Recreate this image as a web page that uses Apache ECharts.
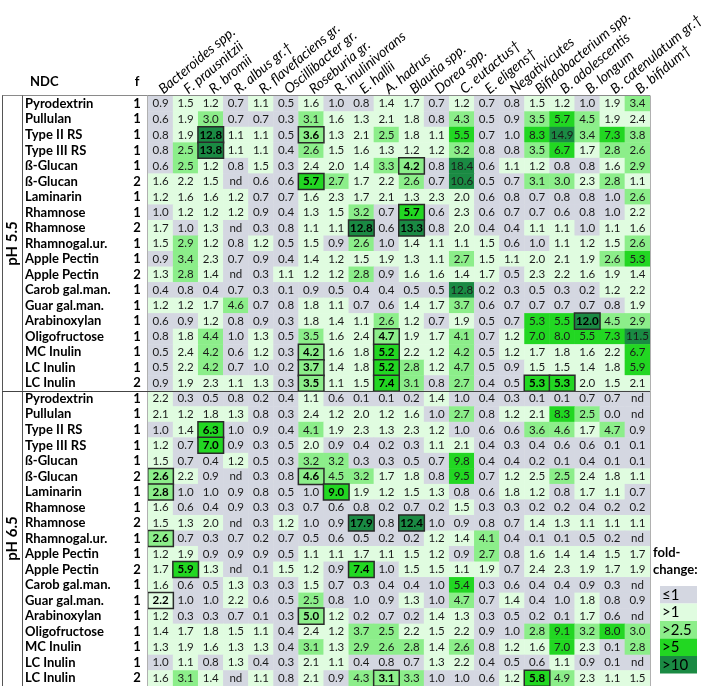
<!DOCTYPE html>
<html><head><meta charset="utf-8">
<script src="https://cdn.jsdelivr.net/npm/echarts@6/dist/echarts.min.js"></script>
<style>html,body{margin:0;padding:0;background:#fff}#c{width:712px;height:686px}</style>
</head><body><div id="c"></div><script>
const bacteria = ['Bacteroides spp.','F. prausnitzii','R. bromii','R. albus gr.\u2020','R. flavefaciens gr.','Oscillibacter gr.','Roseburia gr.','R. inulinivorans','E. hallii','A. hadrus','Blautia spp.','Dorea spp.','C. eutactus\u2020','E. eligens\u2020','Negativicutes','Bifidobacterium spp.','B. adolescentis','B. longum','B. catenulatum gr.\u2020','B. bifidum\u2020'];
const ndcNames = ['Pyrodextrin','Pullulan','Type II RS','Type III RS','\u00df-Glucan','\u00df-Glucan','Laminarin','Rhamnose','Rhamnose','Rhamnogal.ur.','Apple Pectin','Apple Pectin','Carob gal.man.','Guar gal.man.','Arabinoxylan','Oligofructose','MC Inulin','LC Inulin','LC Inulin'];
const fFactors = [1,1,1,1,1,2,1,1,2,1,1,2,1,1,1,1,1,1,2];
const phGroups = ['pH 5.5','pH 6.5'];
const valuesPH55 = [
 [0.9,1.5,1.2,0.7,1.1,0.5,1.6,1.0,0.8,1.4,1.7,0.7,1.2,0.7,0.8,1.5,1.2,1.0,1.9,3.4],
 [0.6,1.9,3.0,0.7,0.7,0.3,3.1,1.6,1.3,2.1,1.8,0.8,4.3,0.5,0.9,3.5,5.7,4.5,1.9,2.4],
 [0.8,1.9,12.8,1.1,1.1,0.5,3.6,1.3,2.1,2.54,1.8,1.1,5.5,0.7,1.0,8.3,14.9,3.4,7.3,3.8],
 [0.8,2.54,13.8,1.1,1.1,0.4,2.6,1.5,1.6,1.3,1.2,1.2,3.2,0.8,0.8,3.5,6.7,1.7,2.8,2.6],
 [0.6,2.54,1.2,0.8,1.5,0.3,2.4,2.0,1.4,3.3,4.2,0.8,18.4,0.6,1.1,1.2,0.8,0.8,1.6,2.9],
 [1.6,2.2,1.5,'nd',0.6,0.6,5.7,2.7,1.7,2.2,2.6,0.7,10.6,0.5,0.7,3.1,3.0,2.3,2.8,1.1],
 [1.2,1.6,1.6,1.2,0.7,0.7,1.6,2.3,1.7,2.1,1.3,2.3,2.0,0.6,0.8,0.7,0.8,0.8,1.0,2.6],
 [1.0,1.2,1.2,1.2,0.9,0.4,1.3,1.5,3.2,0.7,5.7,0.6,2.3,0.6,0.7,0.7,0.6,0.8,1.0,2.2],
 [1.7,1.0,1.3,'nd',0.3,0.8,1.1,1.1,12.8,0.6,13.3,0.8,2.0,0.4,0.4,1.1,1.1,1.0,1.1,1.6],
 [1.5,2.9,1.2,0.8,1.2,0.5,1.5,0.9,2.6,1.0,1.4,1.1,1.1,1.5,0.6,1.0,1.1,1.2,1.5,2.6],
 [0.9,3.4,2.3,0.7,0.9,0.4,1.4,1.2,1.5,1.9,1.3,1.1,2.7,1.5,1.1,2.0,2.1,1.9,2.6,5.3],
 [1.3,2.8,1.4,'nd',0.3,1.1,1.2,1.2,2.8,0.9,1.6,1.6,1.4,1.7,0.5,2.3,2.2,1.6,1.9,1.4],
 [0.4,0.8,0.4,0.7,0.3,0.1,0.9,0.5,0.4,0.4,0.5,0.5,12.8,0.2,0.3,0.5,0.3,0.2,1.2,2.2],
 [1.2,1.2,1.7,4.6,0.7,0.8,1.8,1.1,0.7,0.6,1.4,1.7,3.7,0.6,0.7,0.7,0.7,0.7,0.8,1.9],
 [0.6,0.9,1.2,0.8,0.9,0.3,1.8,1.4,1.1,2.6,1.2,0.7,1.9,0.5,0.7,5.3,5.5,12.0,4.5,2.9],
 [0.8,1.8,4.4,1.0,1.3,0.5,3.5,1.6,2.4,4.7,1.9,1.7,4.1,0.7,1.2,7.0,8.0,5.5,7.3,11.5],
 [0.5,2.4,4.2,0.6,1.2,0.3,4.2,1.6,1.8,5.2,2.2,1.2,4.2,0.5,1.2,1.7,1.8,1.6,2.2,6.7],
 [0.5,2.2,4.2,0.7,1.0,0.2,3.7,1.4,1.8,5.2,2.8,1.2,4.7,0.5,0.9,1.5,1.5,1.4,1.8,5.9],
 [0.9,1.9,2.3,1.1,1.3,0.3,3.5,1.1,1.5,7.4,3.1,0.8,2.7,0.4,0.5,5.3,5.3,2.0,1.5,2.1]
];
const valuesPH65 = [
 [2.2,0.3,0.5,0.8,0.2,0.4,1.1,0.6,0.1,0.1,0.2,1.4,1.0,0.4,0.3,0.1,0.1,0.7,0.7,'nd'],
 [2.1,1.2,1.8,1.3,0.8,0.3,2.4,1.2,2.0,1.2,1.6,1.0,2.7,0.8,1.2,2.1,8.3,2.54,0.0,'nd'],
 [1.0,1.4,6.3,1.0,0.9,0.4,4.1,1.9,2.3,1.3,2.3,1.2,1.0,0.6,0.6,3.6,4.6,1.7,4.7,0.9],
 [1.2,0.7,7.0,0.9,0.3,0.5,2.0,0.9,0.4,0.2,0.3,1.1,2.1,0.4,0.3,0.4,0.6,0.6,0.1,0.1],
 [1.5,0.7,0.4,1.2,0.5,0.3,3.2,3.2,0.3,0.3,0.5,0.7,9.8,0.4,0.4,0.2,0.1,0.4,0.1,0.1],
 [2.6,2.2,0.9,'nd',0.3,0.8,4.6,4.5,3.2,1.7,1.8,0.8,9.5,0.7,1.2,2.46,2.54,2.4,1.8,1.1],
 [2.8,1.0,1.0,0.9,0.8,0.5,1.0,9.0,1.9,1.2,1.5,1.3,0.8,0.6,1.8,1.2,0.8,1.7,1.1,0.7],
 [1.6,0.6,0.4,0.9,0.3,0.3,0.7,0.6,0.8,0.2,0.7,0.2,1.5,0.3,0.3,0.2,0.2,0.4,0.2,0.2],
 [1.5,1.3,2.0,'nd',0.3,1.2,1.0,0.9,17.9,0.8,12.4,1.0,0.9,0.8,0.7,1.4,1.3,1.1,1.1,1.1],
 [2.6,0.7,0.3,0.7,0.2,0.7,0.5,0.6,0.5,0.2,0.2,1.2,1.4,4.1,0.4,0.1,0.1,0.5,0.2,'nd'],
 [1.2,1.9,0.9,0.9,0.9,0.5,1.1,1.1,1.7,1.1,1.5,1.2,0.9,2.7,0.8,1.6,1.4,1.4,1.5,1.7],
 [1.7,5.9,1.3,'nd',0.1,1.5,1.2,0.9,7.4,1.0,1.5,1.5,1.1,1.9,0.7,2.4,2.3,1.9,1.7,1.9],
 [1.6,0.6,0.5,1.3,0.3,0.3,1.5,0.7,0.3,0.4,0.4,1.0,5.4,0.3,0.6,0.4,0.4,0.9,0.3,'nd'],
 [2.2,1.0,1.0,2.2,0.6,0.5,2.54,0.8,1.0,0.9,1.3,1.0,4.7,0.7,1.4,0.4,1.0,1.8,0.8,0.9],
 [1.2,0.3,0.3,0.7,0.1,0.3,4.98,1.2,0.2,0.7,0.2,1.4,1.3,0.3,0.5,0.2,0.1,1.7,0.6,'nd'],
 [1.4,1.7,1.8,1.5,1.1,0.4,2.4,1.2,3.7,2.54,2.2,1.5,2.2,0.9,1.0,2.8,9.1,3.2,8.0,3.0],
 [1.3,1.9,1.6,1.3,1.3,0.4,3.1,1.3,2.9,2.6,2.8,1.4,2.6,0.8,1.2,1.6,7.0,2.3,0.1,2.8],
 [1.0,1.1,0.8,1.3,0.4,0.3,2.1,1.1,0.4,0.8,0.7,1.3,2.2,0.4,0.5,0.6,1.1,0.9,0.1,'nd'],
 [1.6,3.1,1.4,'nd',1.1,0.8,2.1,0.9,4.3,3.1,3.3,1.0,1.0,0.6,1.2,5.8,4.9,2.3,1.1,1.5]
];
// significant cells: [row, column]
const sigPH55 = [[2,2],[2,6],[3,2],[4,10],[5,6],[7,10],[8,8],[8,10],[14,17],[15,9],[16,6],[16,9],[17,6],[17,9],[18,6],[18,9],[18,15],[18,16]];
const sigPH65 = [[2,2],[3,2],[5,0],[5,6],[6,0],[6,7],[8,8],[8,10],[9,0],[11,1],[11,8],[13,0],[14,6],[18,9],[18,15]];
const legendTitle = ['fold-','change:'];
const legendLabels = ['\u22641','>1','>2.5','>5','>10'];
const thresholds = [1, 2.5, 5, 10];
const bandColors = ['#d4d7e1','#e0fce0','#8cee8a','#22d722','#1a8a43'];

function colorFor(v){
  if (typeof v !== 'number') return bandColors[0];
  let k = 0; while (k < thresholds.length && v > thresholds[k]) k++;
  return bandColors[k];
}
const nRows = ndcNames.length * 2;
const rowLabels = ndcNames.concat(ndcNames);
const rowF = fFactors.concat(fFactors).map(String);
const groups = [valuesPH55, valuesPH65];
const sigs = [sigPH55, sigPH65];
const cells = [], sigCells = [];
groups.forEach((vals, g) => {
  const sigSet = new Set(sigs[g].map(s => s[0] + '_' + s[1]));
  vals.forEach((row, r) => row.forEach((v, c) => {
    const ri = g * ndcNames.length + r;
    const txt = typeof v === 'number' ? v.toFixed(1) : v;
    const num = typeof v === 'number' ? v : 0;
    const isSig = sigSet.has(r + '_' + c);
    cells.push({value: [c, ri, num, txt], itemStyle: {color: colorFor(v)}});
    if (isSig) sigCells.push({value: [c, ri, num, txt], itemStyle: {color: colorFor(v)}});
  }));
});

const GL = 148, GR = 650, GT = 96, GB = 686;
const rowH = (GB - GT) / nRows;
const FONT = 'Lato';
const chart = echarts.init(document.getElementById('c'), null, {renderer: 'canvas'});
const graphics = [];
// table lines
graphics.push({type:'line', shape:{x1:2,y1:GT-0.5,x2:GR,y2:GT-0.5}, style:{stroke:'#8a8a8a',lineWidth:1}, z:10});
graphics.push({type:'line', shape:{x1:2.5,y1:GT-0.5,x2:2.5,y2:GB}, style:{stroke:'#555',lineWidth:1}, z:10});
graphics.push({type:'line', shape:{x1:22.5,y1:GT-0.5,x2:22.5,y2:GB}, style:{stroke:'#555',lineWidth:1}, z:10});
graphics.push({type:'line', shape:{x1:GL-0.5,y1:GT-0.5,x2:GL-0.5,y2:GB}, style:{stroke:'#b0b0b0',lineWidth:1}, z:10});
graphics.push({type:'line', shape:{x1:GR+0.5,y1:GT-0.5,x2:GR+0.5,y2:GB}, style:{stroke:'#b0b0b0',lineWidth:1}, z:10});
const sepY = Math.round(GT + ndcNames.length * rowH) + 0.5;
graphics.push({type:'line', shape:{x1:2,y1:sepY,x2:GR,y2:sepY}, style:{stroke:'#444',lineWidth:1.2}, z:10});
// group labels
phGroups.forEach((t, g) => {
  const cy = GT + (g * ndcNames.length + ndcNames.length / 2) * rowH;
  graphics.push({type:'text', x:12, y:cy, rotation:Math.PI/2, style:{text:t, font:'bold 15px ' + FONT, fill:'#000', align:'center', verticalAlign:'middle'}, z:10});
});
// header texts
graphics.push({type:'text', x:30, y:82, style:{text:'NDC', font:'bold 13px ' + FONT, fill:'#000', align:'left', verticalAlign:'middle'}});
graphics.push({type:'text', x:137, y:82, style:{text:'f', font:'bold 13px ' + FONT, fill:'#000', align:'center', verticalAlign:'middle'}});
// legend
legendTitle.forEach((t, i) => {
  graphics.push({type:'text', x:653, y:553 + i * 17, style:{text:t, font:'bold 13px ' + FONT, fill:'#000', align:'left', verticalAlign:'middle'}, z:20});
});
legendLabels.forEach((t, i) => {
  const y = 586 + i * 17.5;
  graphics.push({type:'rect', shape:{x:660, y:y, width:37, height:17.5}, style:{fill:bandColors[i]}, z:20});
  graphics.push({type:'text', x:662, y:y + 9, style:{text:t, font:'15px ' + FONT, fill:'#000', align:'left', verticalAlign:'middle'}, z:21});
});

chart.setOption({
  animation: false,
  backgroundColor: '#fff',
  grid: {left: GL, right: 712 - GR, top: GT, bottom: 686 - GB, containLabel: false},
  xAxis: {type:'category', position:'top', data: bacteria,
    axisLine:{show:false}, axisTick:{show:false}, splitLine:{show:false},
    axisLabel:{interval:0, rotate:-40, margin:5, fontStyle:'italic', fontSize:14, fontFamily:FONT, color:'#000'}},
  yAxis: [
    {type:'category', inverse:true, data: rowLabels, position:'left',
      axisLine:{show:false}, axisTick:{show:false},
      axisLabel:{interval:0, align:'left', margin: GL - 25, fontWeight:'bold', fontSize:13, fontFamily:FONT, color:'#000'}},
    {type:'category', inverse:true, data: rowF, position:'left', offset:0,
      axisLine:{show:false}, axisTick:{show:false},
      axisLabel:{interval:0, align:'center', margin: 11, fontWeight:'bold', fontSize:13, fontFamily:FONT, color:'#000'}}
  ],
  series: [
    {type:'heatmap', data: cells, xAxisIndex:0, yAxisIndex:0,
      label:{show:true, fontSize:11.5, fontFamily:FONT, color:'#1a1a1a', formatter: p => p.value[3]},
      itemStyle:{borderWidth:0}, emphasis:{disabled:true}},
    {type:'heatmap', data: sigCells, xAxisIndex:0, yAxisIndex:0, z:3,
      label:{show:true, fontSize:11.5, fontWeight:'bold', fontFamily:FONT, color:'#000', formatter: p => p.value[3]},
      itemStyle:{borderColor:'#2a2a2a', borderWidth:1.5}, emphasis:{disabled:true}}
  ],
  graphic: graphics
});
</script></body></html>
